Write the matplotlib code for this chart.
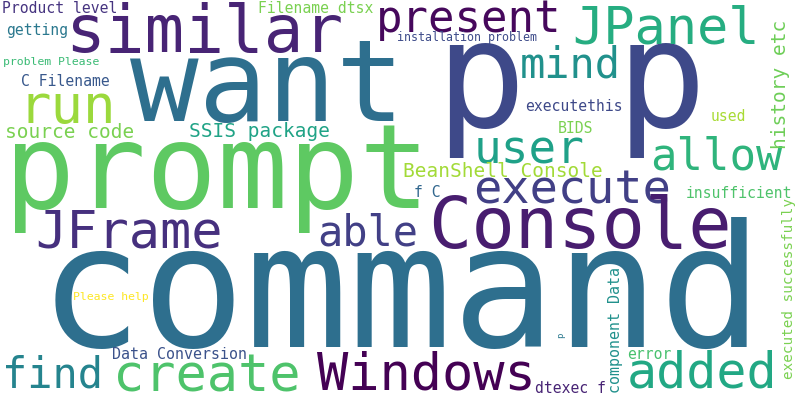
import matplotlib
matplotlib.use("Agg")
import matplotlib.pyplot as plt
from matplotlib.textpath import TextPath
from matplotlib.font_manager import FontProperties

# ---- data: words and their font sizes (px) ----
words = ["command", "p p", "want", "prompt", "similar", "present", "JPanel",
         "mind", "run", "source code", "SSIS package", "C Filename",
         "problem Please", "getting", "Product level", "Filename dtsx",
         "installation problem", "executethis", "used", "BIDS", "user",
         "allow", "BeanShell Console", "f C", "insufficient", "execute",
         "Console", "able", "JFrame", "Please help", "Data Conversion",
         "find", "create", "Windows", "dtexec f", "error", "added",
         "history etc", "component Data", "executed successfully", "p"]
font_px = [172, 150, 114, 118, 66, 44, 52,
           42, 54, 19.5, 19.5, 14.7,
           11.5, 14.7, 14.7, 14.7,
           11.6, 14.7, 14.7, 14.7, 46,
           44, 19.5, 14.7, 14.7, 47,
           72, 42, 52, 11.5, 15,
           42, 52, 52, 14.7, 14.7, 50,
           19.5, 15, 14.2, 9]
color_val = [0.36, 0.22, 0.36, 0.75, 0.10, 0.02, 0.62,
             0.50, 0.85, 0.80, 0.58, 0.27,
             0.68, 0.40, 0.15, 0.80,
             0.23, 0.22, 0.87, 0.80, 0.57,
             0.65, 0.86, 0.33, 0.72, 0.19,
             0.08, 0.19, 0.14, 1.00, 0.25,
             0.45, 0.72, 0.00, 0.10, 0.71, 0.60,
             0.78, 0.50, 0.80, 0.40]

# ---- layout: ink-left x (or baseline x when rotated), baseline y (or ink bottom when rotated) ----
pos_x = [55, 450, 130, 15, 72, 380, 575,
         522, 28, 7, 190, 22,
         4, 7, 3, 260,
         398, 526, 712, 559, 478,
         653, 405, 415, 687, 476,
         433, 320, 38, 74, 113,
         6, 118, 317, 536, 628, 630,
         785.5, 620, 793.5, 563]
pos_y = [347, 127, 121, 208, 52, 32, 43,
         78, 123, 138, 137, 86,
         65, 35, 13, 13,
         41, 111, 121, 133, 163,
         170, 177, 197, 198, 204,
         248, 245, 247, 300, 359,
         388, 392, 390, 393, 359, 387,
         147, 392, 378, 337]
rotation = [0] * 37 + [90, 90, 90, 90]

fig = plt.figure(figsize=(8, 4), dpi=100)
ax = fig.add_axes([0, 0, 1, 1])
ax.set_xlim(0, 800)
ax.set_ylim(400, 0)
ax.axis("off")
fig.patch.set_facecolor("white")

fp = FontProperties(family="DejaVu Sans Mono")
cmap = plt.get_cmap("viridis")

for w, s, c, x, y, r in zip(words, font_px, color_val, pos_x, pos_y, rotation):
    lb = TextPath((0, 0), w, size=s, prop=fp).get_extents().x0
    if r == 0:
        ax.text(x - lb, y, w, fontsize=s * 0.72, family="DejaVu Sans Mono",
                color=cmap(c), ha="left", va="baseline",
                rotation=0, rotation_mode="anchor")
    else:
        ax.text(x, y + lb, w, fontsize=s * 0.72, family="DejaVu Sans Mono",
                color=cmap(c), ha="left", va="baseline",
                rotation=90, rotation_mode="anchor")

fig.savefig("out.png", dpi=100, facecolor="white")
